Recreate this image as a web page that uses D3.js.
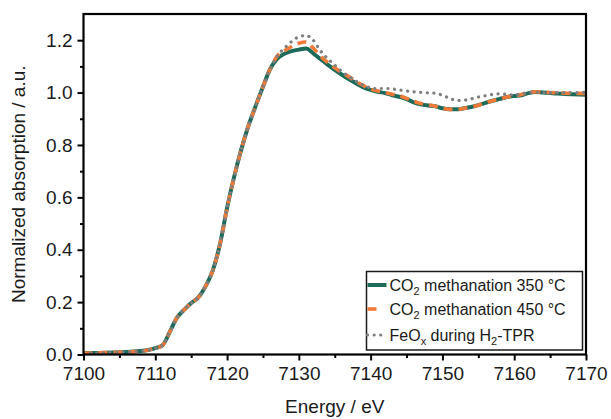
<!DOCTYPE html>
<html>
<head>
<meta charset="utf-8">
<script src="https://cdn.jsdelivr.net/npm/d3@7"></script>
<style>
body { margin: 0; background: #fff; }
text { font-family: "Liberation Sans", Arial, sans-serif; fill: #1a1a1a; }
</style>
</head>
<body>
<svg id="chart" width="611" height="419"></svg>
<script>
// ---- data ----
const energy = [7100,7102,7104,7106,7108,7109,7110,7111,7112,7113,7114,7115,7116,7117,7118,7119,7120,
  7121,7122,7123,7124,7125,7126,7127,7128,7129,7130,7131,7132,7133,7134,7135,7136,7137,7138,7139,7140,
  7141,7142,7143,7144,7145,7146,7147,7148,7149,7150,7151,7152,7153,7154,7155,7156,7157,7158,7159,7160,
  7161,7162,7163,7164,7165,7166,7167,7168,7169,7170];

const meth350 = [0.005,0.006,0.008,0.010,0.013,0.017,0.024,0.035,0.085,0.140,0.170,0.197,0.218,0.260,0.320,0.420,0.560,
  0.680,0.785,0.875,0.950,1.022,1.090,1.130,1.148,1.158,1.164,1.168,1.150,1.128,1.107,1.087,1.068,1.051,1.035,1.020,1.010,
  1.003,0.998,0.990,0.984,0.975,0.963,0.955,0.951,0.948,0.940,0.936,0.936,0.940,0.945,0.952,0.961,0.969,0.976,0.983,0.987,
  0.990,0.998,1.002,1.000,0.998,0.996,0.995,0.994,0.993,0.992];

const meth450 = [0.005,0.006,0.008,0.010,0.013,0.017,0.024,0.035,0.085,0.140,0.170,0.197,0.218,0.260,0.320,0.420,0.560,
  0.680,0.785,0.875,0.950,1.022,1.090,1.140,1.160,1.176,1.188,1.193,1.170,1.140,1.115,1.095,1.076,1.060,1.042,1.027,1.013,
  1.006,1.000,0.994,0.988,0.978,0.967,0.958,0.953,0.948,0.940,0.936,0.936,0.940,0.945,0.952,0.961,0.969,0.976,0.983,0.988,
  0.993,1.000,1.003,1.002,1.000,0.999,0.998,0.997,0.997,0.997];

const feoxTPR = [0.005,0.006,0.008,0.010,0.013,0.017,0.024,0.035,0.085,0.140,0.170,0.197,0.218,0.260,0.320,0.420,0.560,
  0.680,0.785,0.875,0.950,1.022,1.090,1.140,1.170,1.195,1.213,1.218,1.200,1.160,1.130,1.105,1.080,1.061,1.043,1.028,1.018,
  1.015,1.016,1.014,1.010,1.006,1.003,1.001,0.999,0.997,0.990,0.978,0.970,0.971,0.976,0.983,0.988,0.993,0.995,0.993,0.991,
  0.995,1.000,1.002,1.000,1.000,1.000,1.000,1.000,1.000,1.002];

const xTicks = [7100,7110,7120,7130,7140,7150,7160,7170];
const yTicks = [0.0,0.2,0.4,0.6,0.8,1.0,1.2];

const seriesNames = ["CO2 methanation 350 °C","CO2 methanation 450 °C","FeOx during H2-TPR"];

// ---- layout ----
const svg = d3.select("#chart");
const m = {left: 83.5, right: 586, top: 14, bottom: 354.5};
const x = d3.scaleLinear().domain([7100,7170]).range([m.left, m.right]);
const y = d3.scaleLinear().domain([0,1.3]).range([m.bottom, m.top]);

const series = [
  {name: seriesNames[0], vals: meth350, color: "#1c6b5a", width: 4, dash: null, cap: "butt", lx2: 20},
  {name: seriesNames[1], vals: meth450, color: "#f07a38", width: 3.6, dash: "9,6", cap: "butt", lx2: 10},
  {name: seriesNames[2], vals: feoxTPR, color: "#7f7f7f", width: 3.2, dash: "0.1,6.5", cap: "round", lx2: 20}
];

const line = d3.line().x((d,i)=>x(energy[i])).y(d=>y(d)).curve(d3.curveMonotoneX);

svg.append("defs").append("clipPath").attr("id","clip")
  .append("rect").attr("x",m.left).attr("y",m.top).attr("width",m.right-m.left).attr("height",m.bottom-m.top);

const g = svg.append("g").attr("clip-path","url(#clip)");
series.forEach(s=>{
  g.append("path").datum(s.vals)
    .attr("d", line)
    .attr("fill","none")
    .attr("stroke", s.color)
    .attr("stroke-width", s.width)
    .attr("stroke-linecap", s.cap)
    .attr("stroke-linejoin","round")
    .attr("stroke-dasharray", s.dash);
});

// ---- axes ----
const fsTick = 19;
const xAxis = d3.axisBottom(x).tickValues(xTicks).tickFormat(d3.format("d")).tickSizeInner(6).tickSizeOuter(0).tickPadding(6);
const xMinor = d3.axisBottom(x).tickValues(d3.range(7105,7170,10)).tickFormat("").tickSizeInner(3.5).tickSizeOuter(0);
const yAxis = d3.axisLeft(y).tickValues(yTicks).tickFormat(d3.format(".1f")).tickSizeInner(6).tickSizeOuter(0).tickPadding(5);
const yMinor = d3.axisLeft(y).tickValues(d3.range(0.1,1.3,0.2)).tickFormat("").tickSizeInner(3.5).tickSizeOuter(0);

function styleAxis(sel){
  sel.select(".domain").remove();
  sel.selectAll("line").attr("stroke","#000").attr("stroke-width",2);
  sel.selectAll("text").style("font-size", fsTick+"px").attr("fill","#1a1a1a")
    .style("font-family","'Liberation Sans', Arial, sans-serif");
}
svg.append("g").attr("transform",`translate(0,${m.bottom})`).call(xAxis).call(styleAxis);
svg.append("g").attr("transform",`translate(0,${m.bottom})`).call(xMinor).call(styleAxis);
svg.append("g").attr("transform",`translate(${m.left},0)`).call(yAxis).call(styleAxis);
svg.append("g").attr("transform",`translate(${m.left},0)`).call(yMinor).call(styleAxis);

// frame
svg.append("rect").attr("x",m.left).attr("y",m.top).attr("width",m.right-m.left).attr("height",m.bottom-m.top)
  .attr("fill","none").attr("stroke","#000").attr("stroke-width",2.2);

// axis titles
svg.append("text").attr("x",(m.left+m.right)/2).attr("y",413).attr("text-anchor","middle")
  .style("font-size","19px").text("Energy / eV");
svg.append("text").attr("transform",`translate(25,${(m.top+m.bottom)/2}) rotate(-90)`).attr("text-anchor","middle")
  .style("font-size","19px").text("Normalized absorption / a.u.");

// ---- legend ----
const lg = svg.append("g");
const lx0 = 366.5, ly0 = 271.5, lw = 216, lh = 78.5;
lg.append("rect").attr("x",lx0).attr("y",ly0).attr("width",lw).attr("height",lh)
  .attr("fill","#fff").attr("stroke","#1a1a1a").attr("stroke-width",1.5);
const rowsY = [285, 309, 335];
const labelParts = [
  [["CO",false],["2",true],[" methanation 350 °C",false]],
  [["CO",false],["2",true],[" methanation 450 °C",false]],
  [["FeO",false],["x",true],[" during H",false],["2",true],["-TPR",false]]
];
series.forEach((s,i)=>{
  const yy = rowsY[i];
  lg.append("line").attr("x1",lx0+1).attr("x2",lx0+s.lx2).attr("y1",yy).attr("y2",yy)
    .attr("stroke",s.color).attr("stroke-width",s.width)
    .attr("stroke-linecap",s.cap).attr("stroke-dasharray",s.dash);
  const t = lg.append("text").attr("x",lx0+23).attr("y",yy+5.5).style("font-size","16px");
  labelParts[i].forEach(([txt,sub])=>{
    const ts = t.append("tspan").text(txt);
    if(sub){ ts.style("font-size","11px").attr("dy",4); }
    else if(t.selectAll("tspan").size()>1){ ts.attr("dy",-4); }
  });
});
</script>
</body>
</html>
